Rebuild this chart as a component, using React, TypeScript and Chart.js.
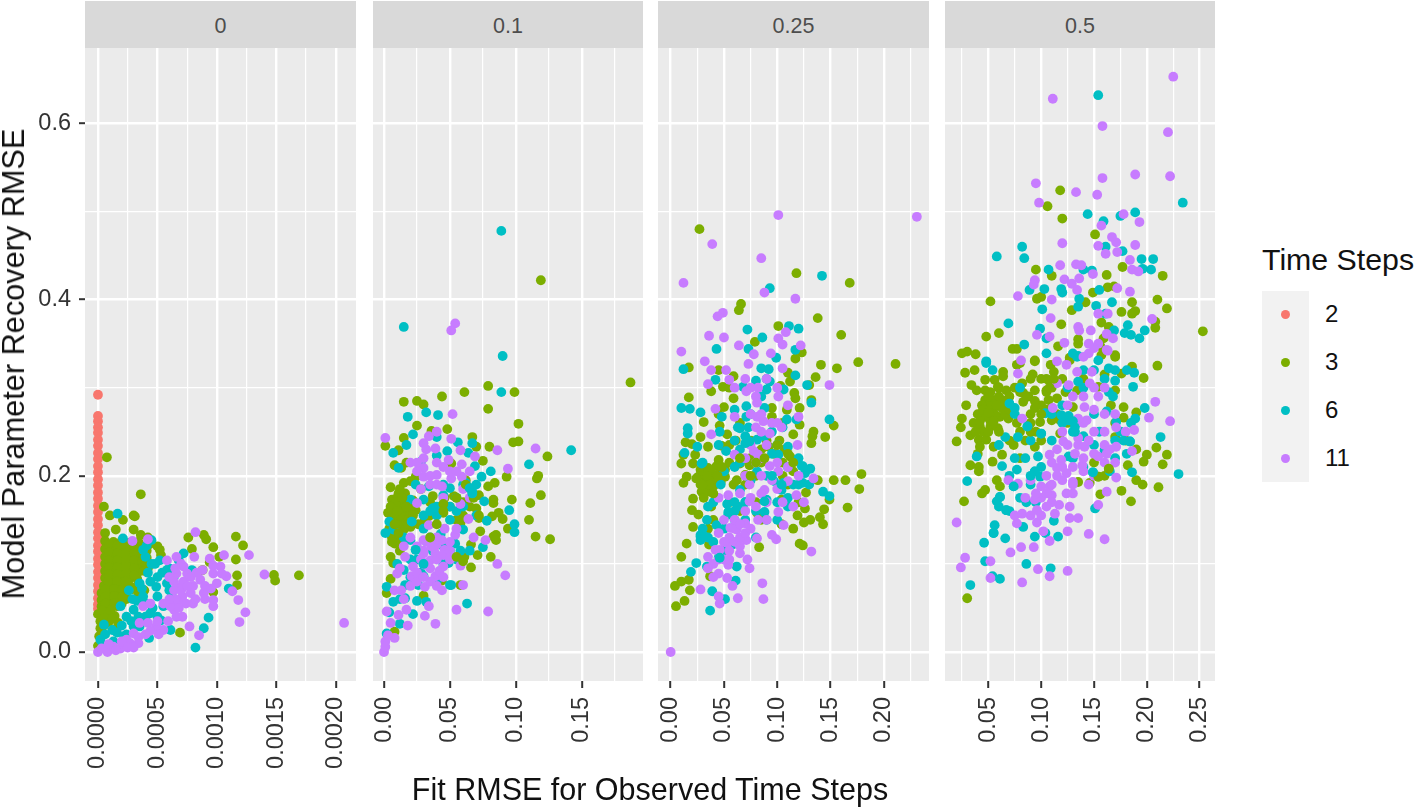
import React, { useEffect, useRef } from "react";
import { Chart, registerables } from "chart.js";

Chart.register(...registerables);

type P = number[];

const COLORS: Record<string, string> = { "2": "#F8766D", "3": "#7CAE00", "6": "#00BFC4", "11": "#C77CFF" };
const stepLabels = ["2", "3", "6", "11"];
const facetLabels = ["0", "0.1", "0.25", "0.5"];
const yMajor = [0, 0.2, 0.4, 0.6];
const yMinor = [0.1, 0.3, 0.5];
const xMajor0 = [0, 0.0005, 0.001, 0.0015, 0.002];
const xMinor0 = [0.00025, 0.00075, 0.00125, 0.00175];
const xMajor1 = [0, 0.05, 0.1, 0.15];
const xMinor1 = [0.025, 0.075, 0.125, 0.175];
const xMajor2 = [0, 0.05, 0.1, 0.15, 0.2];
const xMinor2 = [0.025, 0.075, 0.125, 0.175, 0.225];
const xMajor3 = [0.05, 0.1, 0.15, 0.2, 0.25];
const xMinor3 = [0.025, 0.075, 0.125, 0.175, 0.225];

// facet 0: x is in units of 1e-4
const f0s2: P[] = [[0,.292],[0,.268],[0,.262],[0,.255],[0,.249],[0,.241],[0,.234],[0,.226],[0,.219],[0,.211],[0,.204],[0,.196],[0,.189],[0,.181],[0,.174],[0,.166],[0,.159],[0,.151],[0,.144],[0,.136],[0,.129],[0,.121],[0,.114],[0,.106],[0,.099],[0,.091],[0,.084],[0,.076],[0,.069],[0,.061],[0,.054],[0,.049]];
const f0s3: P[] = [[.75,.221],[3.6,.179],[3.1,.154],[3,.155],[1,.155],[2.1,.15],[1.5,.139],[3,.139],[.5,.165],[7.6,.13],[8.9,.133],[9.1,.128],[9.7,.119],[7.9,.117],[11.6,.131],[12.2,.121],[11.6,.105],[11.7,.087],[11.7,.076],[14.8,.0875],[14.9,.081],[16.9,.087],[6.9,.022],[9.7,.068],[10.2,.108],[9.4,.102],[5.2,.116],[8.8,.093],[3.6,.133],[4.2,.13],[.6,.135],
[.6,.126],[1.3,.125],[2,.126],[2.7,.124],[3.4,.125],[4.3,.122],[5,.12],
[.6,.117],[1.3,.118],[2,.116],[2.7,.117],[3.4,.116],[4.1,.115],[5.3,.11],
[.6,.108],[1.3,.109],[2,.108],[2.7,.107],[3.4,.109],[4.1,.107],
[.6,.1],[1.3,.099],[2,.101],[2.7,.1],[3.4,.099],[4,.1],
[.6,.092],[1.3,.091],[2,.092],[2.7,.093],[3.4,.091],[3.9,.092],
[.6,.084],[1.3,.083],[2,.085],[2.7,.084],[3.3,.083],
[.5,.075],[1.2,.076],[2,.075],[2.6,.076],[3.2,.074],
[.3,.067],[1,.067],[1.7,.066],[2.4,.068],[3.4,.066],
[.3,.059],[1,.058],[1.7,.059],[2.4,.06],[.3,.052],[1,.051],[1.6,.052],
[0,.043],[.7,.042],[1.4,.041],[.2,.035],[.9,.034],[1.7,.033],[.2,.027],[1.5,.026],[0,.007],[.1,.018],
[.95,.122],[1.65,.121],[2.35,.121],[3.05,.12],[3.75,.12],[.95,.113],[1.65,.112],[2.35,.112],[3.05,.112],[3.75,.112],[.95,.104],[1.65,.104],[2.35,.104],[3.05,.104],[3.75,.103],[.95,.096],[1.65,.096],[2.35,.096],[3.05,.095],[.95,.088],[1.65,.088],[2.35,.088],[3.05,.087],[.85,.08],[1.6,.08],[2.3,.08],[.65,.071],[1.35,.071],[2.05,.071],[2.8,.071],[.65,.063],[1.35,.063],[2.05,.063],[.65,.055],[1.35,.055],[2,.055],[.35,.047],[1.05,.047],[.5,.038],[1.2,.038],[3.9,.07],[4.2,.095],[.5,.03]];
const f0s6: P[] = [[1.65,.157],[2.1,.129],[4.5,.127],[3.8,.116],[4.1,.121],[4.5,.1],[5.2,.104],[5.8,.093],[6.4,.086],[7.2,.112],[7.9,.093],[3.5,.078],[4.9,.074],[6.2,.067],[2.6,.07],[1.9,.052],[3,.048],[4.4,.044],[3,.029],[.5,.031],[4.3,.016],[8.2,.005],[8.9,.027],[9.3,.039],[11,.072],[6.1,.025],[.2,.014],[1.3,.012],[5.5,.052],[3.8,.063],[5,.063],[3.5,.029],[5.3,.036],[4.2,.09],[5,.085],[4.4,.08],[3.3,.058],[2.4,.04],[4,.04],[1.6,.022],[.6,.02],[.4,.008],[2.2,.018],[3.7,.072],[5.8,.078],[6.8,.104],[4,.108],[2.9,.06],[5.4,.09],[4.8,.1],[6,.07],[4.6,.05],[3.4,.04],[4,.055],[2.8,.035],[1.2,.025],[2,.03],[5,.04],[6,.095],[2.4,.02],[1,.005]];
const f0s11: P[] = [[8.2,.136],[8.1,.108],[6.6,.108],[9.4,.106],[10.6,.11],[12.7,.11],[14,.088],[20.7,.033],[11.9,.034],[12.4,.045],[11.8,.059],[11.3,.069],[10.8,.086],[10.3,.097],[9.7,.059],[8.6,.082],[7.5,.089],[6.6,.089],[6.9,.074],[7.8,.067],[8.9,.067],[9.7,.052],[6.4,.048],[7.1,.04],[7.7,.029],[8.5,.019],[4.4,.055],[3.8,.052],[4.2,.033],[5.5,.025],[4.9,.029],[3.5,.033],[3,.021],[2.4,.014],[1.9,.004],[.8,0],[0,0],[2.7,.01],[1.3,.006],[8.8,.093],[8,.055],[7.1,.063],[6.1,.052],[5.8,.104],[7.2,.097],[9.7,.089],[10.4,.089],[7.2,.08],[8,.075],[6.4,.07],[7.4,.055],[6.7,.058],[9,.075],[10,.078],[5.1,.02],[4.4,.024],[3.4,.017],[2,.012],[.3,.004],[.9,.009],[2.9,.126],[4.2,.128],[7,.1],[6.5,.095],[7.8,.085],[8.3,.09],[6,.085],[6.4,.08],[7,.07],[7.5,.075],[8.2,.06],[6.5,.06],[6,.06],[5.5,.055],[5.9,.035],[6.6,.04],[5,.035],[9.5,.072],[9,.06],[9.7,.098],[6.8,.05],[4,.02],[3.4,.01],[2.5,.005],[1.5,.002],[3,.005]];

const f1s3: P[] = [[.119,.422],[.187,.306],[.015,.284],[.025,.285],[.03,.281],[.044,.29],[.061,.295],[.079,.302],[.099,.295],[.079,.276],[.102,.259],[.025,.257],[.048,.253],[.036,.251],[.015,.243],[.001,.234],[.011,.229],[.067,.244],[.07,.233],[.08,.233],[.098,.238],[.102,.239],[.124,.222],[.008,.212],[.017,.215],[.013,.209],[.075,.217],[.051,.214],[.093,.199],[.117,.2],[.116,.197],[.084,.192],[.079,.188],[.005,.187],[.015,.192],[.024,.199],[.02,.194],[.119,.178],[.111,.169],[.097,.173],[.083,.173],[.083,.169],[.11,.15],[.087,.158],[.09,.151],[.082,.154],[.094,.14],[.097,.14],[.115,.131],[.126,.128],[.085,.133],[.083,.131],[.085,.127],[.073,.137],[.071,.11],[.081,.108],[.066,.096],[.056,.106],[.061,.108],[.066,.122],[.044,.081],[.058,.076],[.005,.083],[.002,.067],[.03,.064],[.008,.023],[.006,.173],[.011,.18],[.016,.18],[.008,.165],[.013,.169],[.018,.173],[.003,.158],[.011,.158],[.017,.158],[.024,.161],[.007,.148],[.013,.148],[.02,.142],[.008,.135],[.015,.139],[.008,.123],[.012,.127],[.005,.108],[.007,.101],[.037,.177],[.046,.175],[.053,.177],[.062,.195],[.067,.177],[.072,.178],[.045,.158],[.058,.146],[.072,.152],[.031,.15],[.034,.154],[.006,.16],[.01,.175],[.014,.162],[.018,.15],[.022,.172],[.026,.145],[.004,.14],[.01,.145],[.006,.13],[.012,.115],[.009,.17],[.016,.168],[.021,.165],[.012,.155],[.006,.152],[.028,.185],[.05,.165],[.06,.17],[.065,.165],[.07,.163],[.055,.15],[.06,.155],[.035,.17]];
const f1s6: P[] = [[.089,.478],[.015,.369],[.09,.336],[.089,.295],[.018,.267],[.032,.272],[.041,.269],[.022,.247],[.017,.235],[.056,.238],[.007,.226],[.04,.244],[.048,.228],[.04,.223],[.064,.226],[.067,.237],[.142,.229],[.11,.213],[.081,.205],[.069,.211],[.028,.216],[.011,.209],[.074,.199],[.065,.186],[.05,.186],[.076,.171],[.095,.161],[.099,.145],[.099,.136],[.078,.149],[.021,.148],[.02,.173],[.03,.173],[.034,.188],[.045,.178],[.037,.163],[.004,.148],[.001,.135],[.007,.139],[.02,.127],[.043,.134],[.06,.139],[.054,.123],[.075,.119],[.024,.116],[.025,.105],[.015,.093],[.049,.101],[.03,.086],[.016,.076],[.026,.076],[.051,.076],[.002,.074],[.007,.057],[.016,.061],[.025,.058],[.032,.057],[.063,.055],[.004,.045],[.022,.043],[.012,.032],[.002,.021],[.067,.182],[.07,.19],[.035,.13],[.045,.1],[.03,.155],[.04,.155],[.05,.15],[.055,.16],[.06,.19],[.045,.19],[.035,.16],[.03,.1],[.02,.105],[.028,.09],[.037,.115],[.05,.115],[.058,.115],[.012,.06],[.04,.08],[.062,.192],[.03,.14],[.015,.13],[.01,.1],[.02,.085],[.04,.165],[.055,.175],[.06,.165],[.07,.155],[.055,.105],[.065,.115],[.045,.12],[.05,.165],[.024,.19]];
const f1s11: P[] = [[.054,.373],[.051,.365],[.052,.27],[.001,.243],[.04,.25],[.034,.245],[.03,.237],[.051,.242],[.032,.23],[.039,.231],[.058,.229],[.086,.229],[.115,.231],[.094,.208],[.059,.213],[.049,.218],[.069,.222],[.02,.215],[.03,.209],[.03,.199],[.04,.201],[.051,.197],[.059,.199],[.044,.188],[.025,.169],[.058,.168],[.064,.151],[.034,.144],[.046,.14],[.054,.133],[.068,.13],[.077,.127],[.032,.125],[.04,.122],[.046,.116],[.03,.112],[.016,.108],[.039,.106],[.045,.097],[.031,.099],[.058,.098],[.086,.1],[.092,.087],[.039,.086],[.01,.089],[.021,.086],[.06,.076],[.044,.07],[.008,.07],[.031,.074],[.034,.052],[.055,.048],[.079,.046],[.031,.041],[.039,.032],[.018,.03],[.017,.048],[.011,.042],[.002,.046],[.005,.033],[.008,.016],[.003,.019],[.001,.012],[0,0],[.001,.006],[.025,.12],[.036,.12],[.044,.127],[.03,.127],[.039,.112],[.035,.104],[.042,.092],[.03,.115],[.035,.125],[.04,.13],[.045,.11],[.04,.105],[.035,.095],[.045,.085],[.05,.105],[.038,.118],[.028,.105],[.022,.097],[.025,.08],[.035,.08],[.04,.075],[.05,.125],[.055,.14],[.035,.19],[.05,.205],[.04,.19],[.03,.22],[.025,.205],[.045,.175],[.012,.095],[.02,.075],[.06,.185],[.065,.175],[.035,.2],[.045,.21],[.04,.215],[.055,.205],[.065,.205],[.025,.215],[.028,.185],[.015,.12],[.02,.13],[.05,.115],[.025,.09],[.03,.085],[.015,.06],[.013,.07]];
const f1s3Top: P[] = [[.005,.165],[.012,.185],[.017,.165],[.022,.155],[.01,.16],[.014,.175],[.008,.145],[.018,.145],[.006,.125],[.011,.135],[.062,.19],[.068,.175],[.072,.155],[.055,.175],[.045,.168],[.055,.108],[.06,.103],[.045,.16],[.04,.145],[.035,.13]];
const f1s6Top: P[] = [[.065,.186],[.067,.18],[.021,.148],[.037,.163],[.024,.116],[.03,.1],[.05,.076]];

const f2s3: P[] = [[.027,.48],[.118,.43],[.168,.419],[.066,.395],[.064,.388],[.138,.379],[.101,.37],[.16,.36],[.079,.352],[.123,.34],[.117,.333],[.176,.329],[.211,.327],[.141,.326],[.156,.322],[.017,.323],[.045,.32],[.059,.313],[.11,.317],[.136,.312],[.13,.303],[.112,.307],[.103,.302],[.038,.296],[.049,.301],[.017,.289],[.116,.294],[.117,.288],[.132,.286],[.059,.288],[.05,.278],[.109,.275],[.121,.277],[.095,.277],[.095,.267],[.031,.261],[.046,.257],[.153,.257],[.121,.258],[.134,.25],[.133,.245],[.145,.244],[.028,.244],[.115,.247],[.053,.247],[.132,.237],[.014,.238],[.02,.236],[.035,.233],[.048,.234],[.061,.24],[.092,.233],[.102,.24],[.107,.23],[.112,.222],[.118,.218],[.012,.224],[.023,.224],[.01,.214],[.021,.214],[.045,.218],[.065,.214],[.074,.212],[.115,.205],[.179,.202],[.138,.195],[.153,.195],[.164,.195],[.177,.185],[.127,.181],[.149,.173],[.104,.173],[.166,.164],[.144,.162],[.12,.17],[.126,.163],[.119,.155],[.14,.153],[.143,.145],[.131,.15],[.125,.147],[.115,.14],[.104,.145],[.121,.123],[.124,.121],[.083,.119],[.028,.207],[.035,.209],[.043,.211],[.051,.207],[.026,.199],[.034,.199],[.042,.199],[.051,.199],[.028,.19],[.035,.19],[.043,.192],[.029,.182],[.037,.182],[.012,.192],[.015,.199],[.031,.175],[.021,.174],[.02,.161],[.026,.156],[.021,.142],[.015,.123],[.01,.108],[.037,.086],[.036,.122],[.038,.165],[.059,.19],[.062,.195],[.07,.201],[.081,.158],[.004,.075],[.01,.08],[.017,.082],[.018,.07],[.013,.058],[.005,.052],[.032,.195],[.04,.188],[.046,.203],[.03,.2],[.038,.205],[.033,.185],[.024,.197],[.047,.193],[.055,.215],[.075,.22],[.09,.24],[.085,.215],[.097,.225],[.105,.215],[.07,.19],[.055,.17],[.08,.17],[.085,.15],[.04,.15],[.035,.14],[.065,.16],[.055,.235],[.065,.26],[.075,.24],[.08,.2],[.045,.27],[.055,.3],[.105,.26],[.085,.23],[.105,.2],[.11,.19]];
const f2s6: P[] = [[.142,.427],[.093,.413],[.111,.37],[.12,.367],[.072,.366],[.086,.357],[.043,.344],[.073,.344],[.099,.334],[.117,.343],[.012,.321],[.085,.322],[.092,.321],[.117,.314],[.042,.309],[.08,.308],[.128,.303],[.093,.307],[.09,.298],[.106,.298],[.068,.301],[.132,.283],[.01,.277],[.018,.276],[.028,.272],[.06,.275],[.071,.279],[.088,.277],[.048,.267],[.071,.267],[.016,.254],[.016,.248],[.149,.264],[.046,.25],[.063,.255],[.073,.255],[.088,.245],[.109,.264],[.118,.264],[.073,.239],[.081,.241],[.025,.233],[.013,.226],[.052,.228],[.029,.214],[.101,.224],[.11,.233],[.081,.205],[.123,.211],[.131,.208],[.126,.203],[.124,.192],[.047,.19],[.065,.184],[.106,.192],[.104,.184],[.097,.194],[.143,.182],[.149,.177],[.09,.173],[.053,.168],[.063,.165],[.088,.159],[.054,.156],[.034,.15],[.043,.144],[.028,.133],[.028,.127],[.058,.122],[.045,.107],[.024,.101],[.034,.097],[.019,.091],[.062,.097],[.061,.081],[.039,.069],[.051,.06],[.037,.047],[.06,.24],[.07,.245],[.065,.23],[.09,.2],[.1,.17],[.11,.175],[.09,.15],[.07,.15],[.06,.15],[.05,.14],[.04,.125],[.035,.13],[.03,.14],[.05,.115],[.06,.21],[.075,.195],[.095,.25],[.105,.255],[.085,.29],[.09,.31],[.115,.19],[.12,.19],[.08,.16],[.07,.17],[.03,.215],[.045,.235],[.075,.27],[.095,.225],[.1,.235],[.11,.21],[.12,.22],[.13,.19],[.1,.15],[.11,.165],[.08,.13],[.07,.17],[.06,.16],[.065,.215],[.05,.205],[.04,.17],[.035,.165]];
const f2s11: P[] = [[.101,.496],[.231,.494],[.039,.463],[.085,.447],[.012,.419],[.088,.408],[.117,.401],[.049,.385],[.044,.381],[.036,.359],[.05,.357],[.108,.363],[.101,.356],[.105,.349],[.064,.348],[.122,.348],[.01,.341],[.078,.338],[.094,.339],[.032,.33],[.073,.327],[.038,.32],[.052,.32],[.105,.322],[.055,.309],[.035,.304],[.082,.3],[.071,.296],[.149,.303],[.101,.29],[.042,.276],[.081,.283],[.081,.267],[.087,.262],[.06,.267],[.12,.267],[.104,.255],[.038,.247],[.093,.248],[.119,.235],[.078,.228],[.06,.224],[.082,.224],[.093,.211],[.101,.205],[.074,.19],[.054,.178],[.088,.184],[.11,.194],[.134,.197],[.118,.178],[.074,.171],[.101,.159],[.082,.15],[.106,.144],[.07,.146],[.056,.141],[.045,.135],[.062,.139],[.095,.133],[.099,.128],[.081,.129],[.071,.127],[.053,.124],[.046,.116],[.042,.116],[.132,.114],[.035,.108],[.065,.112],[.072,.105],[.074,.095],[.054,.099],[.045,.089],[.053,.084],[.058,.075],[.086,.078],[.028,.071],[.045,.063],[.063,.061],[.087,.06],[.046,.055],[0,0],[.055,.13],[.06,.125],[.065,.13],[.05,.125],[.06,.14],[.055,.115],[.05,.105],[.045,.105],[.055,.105],[.04,.1],[.065,.12],[.07,.135],[.08,.215],[.085,.22],[.07,.22],[.075,.235],[.095,.195],[.1,.185],[.085,.18],[.09,.17],[.075,.175],[.08,.29],[.075,.27],[.085,.27],[.08,.255],[.075,.3],[.11,.28],[.095,.26],[.1,.26],[.065,.18],[.09,.235],[.1,.215],[.11,.21],[.12,.2],[.085,.2],[.07,.2],[.07,.16],[.08,.165],[.06,.15],[.05,.15],[.045,.175],[.09,.15],[.105,.17],[.115,.165],[.125,.17],[.06,.3],[.07,.31],[.09,.31],[.1,.3],[.085,.25],[.075,.14],[.065,.145],[.04,.085],[.035,.095]];
const f2s3Top: P[] = [[.04,.197],[.036,.19],[.044,.2],[.03,.19],[.034,.2],[.04,.18],[.048,.21],[.08,.215],[.088,.22],[.1,.235],[.11,.225],[.115,.215],[.075,.2],[.065,.22]];
const f2s6Top: P[] = [[.074,.239],[.07,.237],[.124,.211],[.104,.19],[.088,.171],[.054,.159],[.028,.131],[.032,.131],[.046,.107],[.065,.254],[.06,.17],[.095,.2]];

const f3s3: P[] = [[.118,.524],[.106,.506],[.12,.492],[.151,.474],[.177,.437],[.215,.427],[.095,.434],[.11,.427],[.162,.428],[.149,.408],[.163,.414],[.169,.415],[.052,.398],[.096,.401],[.1,.403],[.21,.4],[.186,.397],[.219,.39],[.142,.397],[.129,.388],[.176,.386],[.189,.387],[.186,.384],[.208,.375],[.119,.372],[.157,.374],[.164,.369],[.208,.368],[.253,.364],[.048,.358],[.06,.362],[.135,.355],[.135,.35],[.159,.356],[.073,.344],[.077,.344],[.116,.347],[.025,.339],[.03,.341],[.038,.338],[.17,.337],[.127,.334],[.094,.331],[.157,.337],[.21,.325],[.186,.324],[.028,.317],[.037,.32],[.064,.318],[.08,.328],[.077,.326],[.094,.33],[.109,.326],[.092,.315],[.112,.318],[.127,.331],[.17,.335],[.156,.347],[.197,.311],[.034,.303],[.039,.297],[.047,.309],[.056,.309],[.064,.313],[.047,.297],[.059,.301],[.067,.297],[.082,.305],[.083,.294],[.094,.297],[.107,.309],[.105,.297],[.134,.297],[.123,.295],[.154,.301],[.17,.297],[.176,.316],[.029,.28],[.047,.286],[.055,.286],[.063,.286],[.047,.277],[.055,.277],[.063,.277],[.07,.29],[.083,.284],[.115,.288],[.107,.286],[.094,.277],[.13,.278],[.166,.28],[.178,.278],[.19,.272],[.178,.266],[.025,.265],[.024,.255],[.036,.26],[.045,.267],[.053,.267],[.061,.267],[.069,.265],[.077,.26],[.033,.246],[.042,.256],[.052,.256],[.059,.254],[.02,.239],[.041,.241],[.048,.241],[.042,.233],[.055,.233],[.063,.224],[.074,.235],[.094,.233],[.099,.261],[.11,.263],[.118,.263],[.118,.248],[.17,.244],[.033,.212],[.041,.21],[.041,.205],[.054,.216],[.209,.232],[.219,.224],[.2,.224],[.197,.216],[.215,.213],[.058,.195],[.061,.188],[.047,.184],[.044,.18],[.027,.171],[.03,.061],[.135,.193],[.146,.192],[.154,.199],[.164,.208],[.182,.212],[.19,.195],[.196,.19],[.211,.187],[.176,.183],[.156,.179],[.185,.171],[.04,.27],[.05,.28],[.06,.29],[.052,.262],[.045,.25],[.038,.25],[.056,.27],[.048,.267],[.044,.28],[.052,.295],[.06,.3],[.066,.27],[.1,.28],[.105,.275],[.09,.27],[.085,.24],[.09,.26],[.095,.25],[.1,.24],[.105,.295],[.11,.3],[.088,.29],[.075,.3],[.08,.22],[.04,.225],[.07,.275],[.08,.295],[.09,.31],[.1,.31],[.115,.27],[.125,.26],[.08,.25],[.07,.24],[.17,.26],[.18,.24],[.19,.23],[.16,.2],[.15,.215],[.12,.31],[.14,.31],[.16,.315]];
const f3s6: P[] = [[.154,.632],[.234,.51],[.144,.497],[.189,.499],[.175,.495],[.159,.489],[.082,.46],[.058,.449],[.084,.447],[.161,.46],[.177,.455],[.195,.446],[.206,.446],[.196,.435],[.204,.434],[.107,.434],[.148,.433],[.14,.434],[.089,.411],[.103,.412],[.119,.412],[.12,.408],[.155,.411],[.136,.401],[.167,.397],[.101,.389],[.135,.392],[.152,.393],[.161,.384],[.069,.373],[.099,.367],[.182,.371],[.169,.365],[.198,.365],[.179,.362],[.185,.36],[.193,.356],[.084,.349],[.105,.356],[.105,.339],[.13,.339],[.135,.336],[.048,.33],[.048,.328],[.054,.32],[.134,.335],[.164,.322],[.154,.331],[.181,.32],[.188,.317],[.187,.301],[.17,.308],[.135,.307],[.164,.295],[.168,.29],[.162,.273],[.075,.277],[.07,.282],[.189,.265],[.198,.277],[.171,.261],[.104,.271],[.119,.269],[.126,.263],[.132,.256],[.087,.256],[.1,.248],[.078,.244],[.066,.244],[.213,.244],[.184,.239],[.097,.222],[.075,.22],[.039,.222],[.063,.211],[.077,.207],[.094,.205],[.099,.199],[.149,.204],[.186,.204],[.23,.202],[.03,.194],[.074,.188],[.061,.176],[.058,.171],[.086,.17],[.067,.161],[.151,.163],[.112,.149],[.083,.142],[.056,.144],[.055,.135],[.066,.129],[.094,.131],[.104,.135],[.116,.131],[.046,.124],[.047,.103],[.086,.1],[.109,.095],[.054,.086],[.061,.083],[.033,.076],[.126,.222],[.16,.229],[.181,.225],[.11,.27],[.12,.26],[.13,.25],[.14,.245],[.15,.235],[.09,.24],[.085,.22],[.09,.19],[.1,.21],[.165,.205],[.17,.22],[.07,.2],[.08,.175],[.06,.165],[.14,.3],[.15,.32],[.125,.3],[.11,.24],[.13,.22],[.155,.25],[.12,.28],[.15,.27],[.175,.25],[.185,.26],[.14,.21],[.17,.24],[.095,.17],[.07,.16],[.075,.27],[.06,.235],[.08,.3],[.14,.32],[.17,.32],[.16,.31]];
const f3s11: P[] = [[.225,.653],[.111,.628],[.158,.597],[.22,.59],[.095,.532],[.158,.538],[.189,.542],[.222,.54],[.133,.522],[.153,.519],[.098,.51],[.178,.497],[.193,.488],[.157,.484],[.167,.471],[.12,.464],[.171,.465],[.154,.461],[.189,.462],[.161,.452],[.172,.454],[.184,.445],[.118,.439],[.133,.44],[.138,.439],[.186,.434],[.192,.432],[.149,.429],[.094,.422],[.093,.417],[.122,.423],[.136,.424],[.129,.418],[.134,.411],[.172,.413],[.184,.409],[.078,.404],[.11,.4],[.154,.384],[.163,.384],[.109,.379],[.135,.369],[.136,.365],[.147,.365],[.205,.378],[.096,.36],[.108,.358],[.122,.351],[.162,.361],[.168,.356],[.154,.35],[.145,.339],[.163,.342],[.081,.331],[.208,.284],[.202,.266],[.222,.262],[.188,.252],[.186,.228],[.171,.255],[.16,.25],[.154,.29],[.141,.278],[.143,.263],[.148,.318],[.124,.326],[.134,.318],[.126,.303],[.146,.305],[.162,.343],[.078,.316],[.115,.305],[.111,.277],[.082,.265],[.135,.243],[.121,.239],[.108,.224],[.119,.218],[.115,.209],[.139,.212],[.171,.233],[.162,.225],[.154,.222],[.141,.233],[.132,.225],[.124,.203],[.13,.193],[.1,.188],[.108,.188],[.11,.178],[.124,.18],[.069,.195],[.078,.191],[.094,.173],[.096,.161],[.117,.167],[.113,.157],[.127,.165],[.127,.152],[.135,.152],[.075,.155],[.082,.157],[.077,.146],[.096,.147],[.02,.147],[.125,.137],[.145,.134],[.16,.128],[.108,.126],[.093,.119],[.081,.119],[.071,.113],[.028,.107],[.024,.096],[.052,.103],[.052,.084],[.097,.094],[.125,.092],[.108,.086],[.082,.079],[.162,.182],[.171,.198],[.154,.167],[.102,.137],[.115,.2],[.12,.21],[.105,.2],[.11,.215],[.12,.195],[.13,.21],[.14,.22],[.15,.225],[.16,.235],[.135,.235],[.145,.24],[.15,.25],[.165,.23],[.11,.17],[.1,.175],[.09,.155],[.105,.165],[.095,.18],[.13,.18],[.125,.235],[.115,.23],[.14,.26],[.15,.275],[.16,.27],[.135,.265],[.12,.25],[.13,.19],[.14,.205],[.15,.2],[.16,.215],[.17,.215],[.145,.19],[.105,.18],[.11,.19],[.1,.155],[.09,.195],[.085,.175],[.13,.29],[.14,.29],[.15,.3],[.16,.3],[.17,.27],[.18,.25],[.125,.28],[.115,.33],[.14,.335],[.15,.345],[.145,.35]];
const f3s3Top: P[] = [[.045,.275],[.05,.272],[.055,.262],[.05,.25],[.042,.262],[.058,.28],[.1,.27],[.108,.3],[.105,.31],[.112,.31],[.094,.285],[.09,.25],[.154,.199],[.164,.208],[.06,.25],[.05,.29]];
const f3s6Top: P[] = [[.132,.25],[.13,.262],[.126,.268],[.094,.205],[.09,.2],[.074,.188],[.061,.176],[.067,.161],[.055,.135],[.087,.256],[.1,.248],[.149,.204],[.184,.239],[.178,.24]];

const scaleX0 = (pts: P[]) => pts.map(([x, y]) => [x * 1e-4, y]);

const panels = [
  { left: 85, right: 356, min: -0.000109, max: 0.00217, major: xMajor0, minor: xMinor0, dec: 4, series: [["2", scaleX0(f0s2)], ["3", scaleX0(f0s3)], ["6", scaleX0(f0s6)], ["11", scaleX0(f0s11)]] },
  { left: 373, right: 643, min: -0.00836, max: 0.1965, major: xMajor1, minor: xMinor1, dec: 2, series: [["3", f1s3], ["6", f1s6], ["11", f1s11], ["3", f1s3Top], ["6", f1s6Top]] },
  { left: 658, right: 929, min: -0.0119, max: 0.2424, major: xMajor2, minor: xMinor2, dec: 2, series: [["3", f2s3], ["6", f2s6], ["11", f2s11], ["3", f2s3Top], ["6", f2s6Top]] },
  { left: 945, right: 1215, min: 0.009, max: 0.2645, major: xMajor3, minor: xMinor3, dec: 2, series: [["3", f3s3], ["6", f3s6], ["11", f3s11], ["3", f3s3Top], ["6", f3s6Top]] },
];

const FONT = '"Liberation Sans", Arial, sans-serif';
const PANEL_TOP = 48;
const PANEL_BOTTOM = 681;
const CANVAS_BOTTOM = 785;
const Y_MIN = -0.0329;
const Y_MAX = 0.6856;

const panelBackground = {
  id: "panelBackground",
  beforeDraw(chart: any) {
    const { ctx, chartArea: a } = chart;
    ctx.save();
    ctx.fillStyle = "#EBEBEB";
    ctx.fillRect(a.left, a.top, a.right - a.left, a.bottom - a.top);
    ctx.restore();
  },
};

const noPadding = (s: any) => {
  s.paddingLeft = 0;
  s.paddingRight = 0;
  s.paddingTop = 0;
  s.paddingBottom = 0;
};

function Panel({ index }: { index: number }) {
  const ref = useRef<HTMLCanvasElement>(null);
  const p = panels[index];
  const gutter = index === 0 ? p.left : 0;
  useEffect(() => {
    const allX = [...p.major, ...p.minor].sort((a, b) => a - b);
    const allY = [...yMajor, ...yMinor].sort((a, b) => a - b);
    const chart = new Chart(ref.current as HTMLCanvasElement, {
      type: "scatter",
      plugins: [panelBackground],
      data: {
        datasets: (p.series as any[]).map(([label, pts], i: number) => ({
          label,
          data: pts.map(([x, y]: number[]) => ({ x, y })),
          backgroundColor: COLORS[label],
          borderWidth: 0,
          pointRadius: 4.9,
          order: 10 - i,
        })),
      },
      options: {
        responsive: false,
        animation: false,
        layout: { autoPadding: false, padding: 0 },
        plugins: { legend: { display: false }, title: { display: false }, tooltip: { enabled: false } },
        scales: {
          x: {
            type: "linear",
            min: p.min,
            max: p.max,
            border: { display: false },
            afterBuildTicks: (s: any) => { s.ticks = allX.map((value) => ({ value })); },
            afterFit: (s: any) => { s.height = CANVAS_BOTTOM - PANEL_BOTTOM; noPadding(s); },
            grid: {
              color: "#FFFFFF",
              lineWidth: (c: any) => (p.major.includes(c.tick?.value) ? 2.4 : 1.2),
              tickColor: (c: any) => (p.major.includes(c.tick?.value) ? "#333333" : "rgba(0,0,0,0)"),
              tickWidth: 2,
              tickLength: 7,
            },
            ticks: {
              autoSkip: false,
              minRotation: 90,
              maxRotation: 90,
              padding: 9,
              color: "#333333",
              font: { family: FONT, size: 23.5 },
              callback: (v: any) => (p.major.includes(v) ? Number(v).toFixed(p.dec) : ""),
            },
          },
          y: {
            type: "linear",
            min: Y_MIN,
            max: Y_MAX,
            border: { display: false },
            afterBuildTicks: (s: any) => { s.ticks = allY.map((value) => ({ value })); },
            afterFit: (s: any) => { s.width = gutter; noPadding(s); },
            grid: {
              color: "#FFFFFF",
              lineWidth: (c: any) => (yMajor.includes(c.tick?.value) ? 2.4 : 1.2),
              drawTicks: index === 0,
              tickColor: (c: any) => (yMajor.includes(c.tick?.value) ? "#333333" : "rgba(0,0,0,0)"),
              tickWidth: 2,
              tickLength: 6,
            },
            ticks: {
              display: index === 0,
              autoSkip: false,
              padding: 8,
              color: "#333333",
              font: { family: FONT, size: 23.5 },
              callback: (v: any) => (yMajor.includes(v) ? Number(v).toFixed(1) : ""),
            },
          },
        },
      },
    } as any);
    return () => chart.destroy();
  }, []);
  return (
    <canvas
      ref={ref}
      width={p.right - p.left + gutter}
      height={CANVAS_BOTTOM - PANEL_TOP}
      style={{ position: "absolute", left: p.left - gutter, top: PANEL_TOP, display: "block" }}
    />
  );
}

const abs = (o: React.CSSProperties): React.CSSProperties => ({ position: "absolute", whiteSpace: "nowrap", fontFamily: FONT, ...o });

export default function App() {
  return (
    <div style={{ position: "absolute", left: 0, top: 0, width: 1416, height: 807, background: "#fff", overflow: "hidden", filter: "blur(0.55px)" }}>
      {panels.map((p, i) => (
        <div key={i} style={abs({ left: p.left, width: p.right - p.left, top: 1, height: 47, background: "#D9D9D9", color: "#4D4D4D", fontSize: 21.5, lineHeight: "50px", textAlign: "center" })}>
          {facetLabels[i]}
        </div>
      ))}
      {panels.map((_, i) => <Panel key={i} index={i} />)}
      <div style={abs({ left: 14, top: 364, fontSize: 30.7, lineHeight: "30px", color: "#111", transform: "translate(-50%,-50%) rotate(-90deg)" })}>Model Parameter Recovery RMSE</div>
      <div style={abs({ left: 650, top: 789, fontSize: 30.5, lineHeight: "30px", color: "#111", transform: "translate(-50%,-50%)" })}>Fit RMSE for Observed Time Steps</div>
      <div style={abs({ left: 1262, top: 245, fontSize: 30.3, lineHeight: "30px", color: "#111" })}>Time Steps</div>
      <div style={abs({ left: 1262, top: 291, width: 47, height: 191, background: "#F2F2F2" })} />
      {stepLabels.map((s, i) => (
        <React.Fragment key={s}>
          <div style={abs({ left: 1281, top: 310 + i * 48, width: 9, height: 9, borderRadius: "50%", background: COLORS[s] })} />
          <div style={abs({ left: 1325, top: 302 + i * 48, fontSize: 24, lineHeight: "24px", color: "#111" })}>{s}</div>
        </React.Fragment>
      ))}
    </div>
  );
}
